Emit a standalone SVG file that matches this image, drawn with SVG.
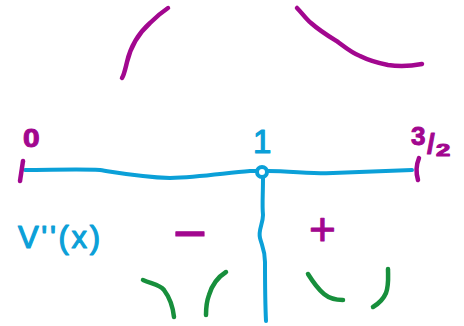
<svg xmlns="http://www.w3.org/2000/svg" width="464" height="326" viewBox="0 0 464 326">
<style>
.s{fill:none;stroke-linecap:round;stroke-linejoin:round}
.b{stroke:#0ba0d8;stroke-width:4}
.m{stroke:#a2078f;stroke-width:4.5}
.g{stroke:#178f3c;stroke-width:4.5}
.t{font-family:"Liberation Sans",Arial,sans-serif;stroke-linejoin:round}
.tb{fill:#0ba0d8;stroke:#0ba0d8;stroke-width:1.2}
.tm{fill:#a2078f;stroke:#a2078f;stroke-width:1}
</style>
<rect width="464" height="326" fill="#fff"/>
<g id="curves-top">
<path class="s m" d="M122,78 C124,75 125,70 127,62 C131,45 140,32 150,23 C156,17 162,12 168,8"/>
<path class="s m" d="M297,8 C302,13 306,19 311,23 C320,31 330,37 338,42 C346,48 352,53 360,56 C370,61 378,63 388,65 C400,67 412,66 422,64"/>
</g>
<g id="axis">
<path class="s b" d="M25,170 C50,170 80,169 100,170 C120,173 140,177 170,178 C200,177 225,173 250,171 L256,171"/>
<path class="s b" d="M268,171 C290,171 315,174 333,173 C360,172 385,171 412,170"/>
<circle class="s b" cx="262" cy="172" r="5"/>
<path class="s b" d="M263,178 C263,195 262,205 263,215 C263,224 258,230 260,238 C262,246 265,250 265,262 C265,285 265,300 266,321"/>
</g>
<g id="ticks">
<path class="s m" d="M23,161 L20,181"/>
<path class="s m" d="M419,158 C417,163 415,170 418,180"/>
</g>
<g id="labels">
<text class="t tm" transform="translate(23,147) scale(1.15,1)" font-size="26" font-weight="bold">0</text>
<text class="t tb" x="253" y="153" font-size="33">1</text>
<text class="t tm" x="411" y="145" font-size="26" font-weight="bold">3</text>
<text class="t tm" x="427" y="153" font-size="28" font-weight="bold">/</text>
<text class="t tm" transform="translate(436,156) scale(1.6,1)" font-size="16" font-weight="bold">2</text>
<text class="t tb" x="18" y="248" font-size="31" textLength="82" lengthAdjust="spacing">V''(x)</text>
<text class="t tm" x="173" y="253" font-size="58">−</text>
<text class="t tm" x="309" y="245" font-size="46">+</text>
</g>
<g id="curves-bottom">
<path class="s g" d="M143,280 C152,284 160,285 164,290 C170,298 173,308 174,317"/>
<path class="s g" d="M226,272 C218,277 212,285 209,295 C206,303 206,310 206,315"/>
<path class="s g" d="M308,274 C313,282 318,289 324,294 C330,299 336,300 343,300"/>
<path class="s g" d="M388,269 C388,277 389,285 386,293 C383,300 378,304 373,307"/>
</g>
</svg>
